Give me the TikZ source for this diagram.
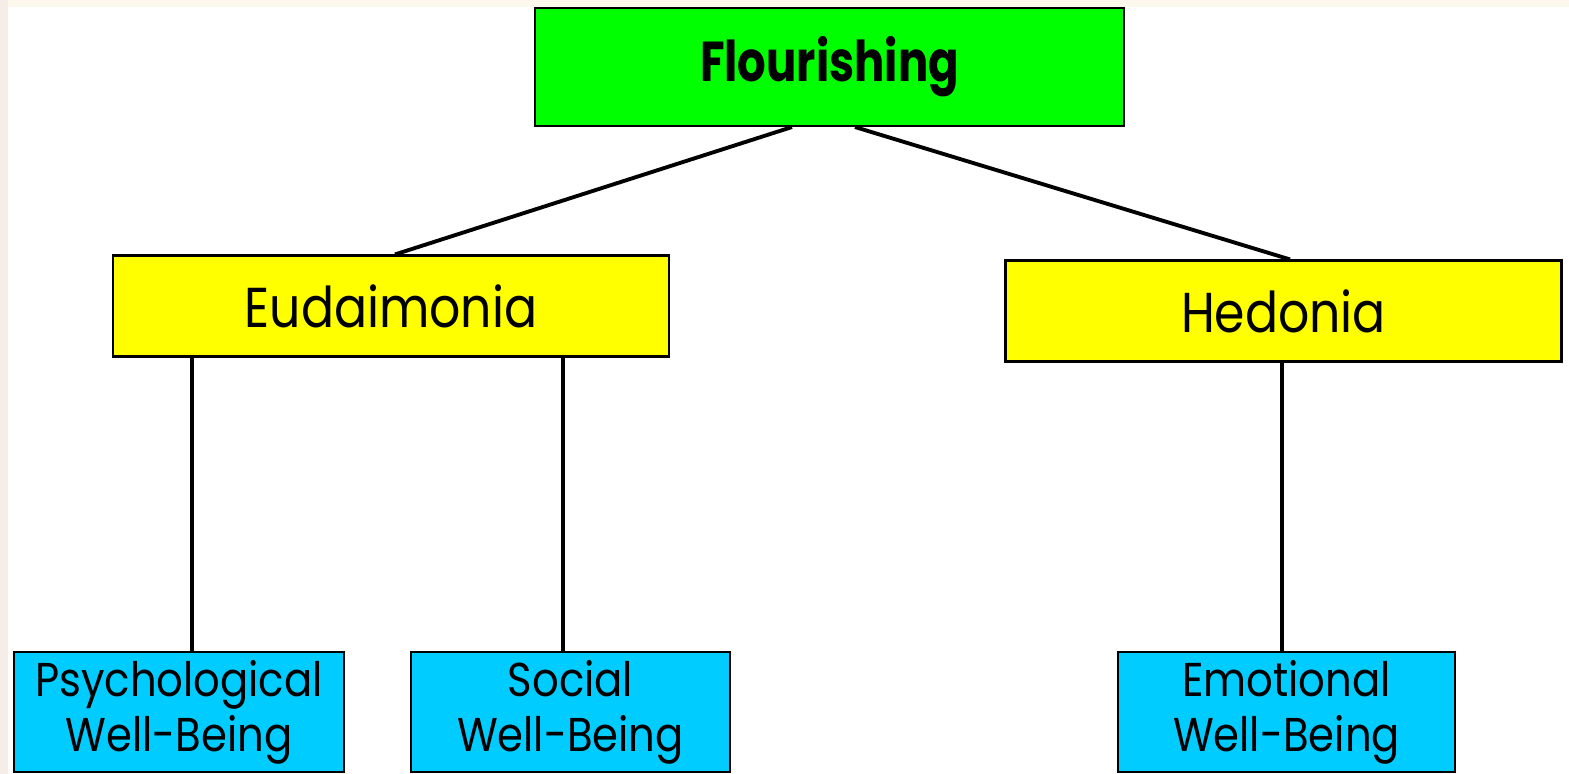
\documentclass[tikz,border=0pt]{standalone}
\usepackage{fontspec}
\setmainfont{Poppins}
\newfontfamily\rootfont[FakeStretch=0.8]{Poppins}
\newfontfamily\branchfont[FakeStretch=0.87]{Poppins}
\newfontfamily\leaffont[FakeStretch=0.88]{Poppins}
\definecolor{topgreen}{RGB}{0,255,0}
\definecolor{midyellow}{RGB}{255,255,0}
\definecolor{lowcyan}{RGB}{0,204,255}
\definecolor{edgepink}{RGB}{246,236,232}
\definecolor{edgecream}{RGB}{253,248,236}
\begin{document}
\begin{tikzpicture}[box/.style={draw, line width=0.6pt, inner sep=0pt, align=center},
		root/.style={box, fill=topgreen, minimum width=5.89cm, minimum height=1.18cm, font=\rootfont\fontsize{16}{19}\selectfont\bfseries},
		branch/.style={box, fill=midyellow, minimum width=5.56cm, minimum height=1.01cm, font=\branchfont\fontsize{16}{19}\selectfont},
		leaf/.style={box, fill=lowcyan, minimum height=1.2cm, font=\leaffont\fontsize{13.5}{15.6}\selectfont},
		link/.style={line width=1.1pt}]
	\useasboundingbox (0,0) rectangle (15.69,7.74);
	\fill[white] (0,0) rectangle (15.69,7.74);
	\fill[edgepink] (0,0) rectangle (0.08,7.74);
	\fill[edgecream] (0.08,7.67) rectangle (15.69,7.74);

	\node[root] at (8.295,7.07) (flour) {Flourishing};
	\node[branch] at (3.91,4.68) (eud) {Eudaimonia};
	\node[branch] at (12.835,4.63) (hed) {Hedonia};
	\node[leaf, minimum width=3.30cm] at (1.79,0.62) (psy) {Psychological\\Well-Being};
	\node[leaf, minimum width=3.19cm] at (5.705,0.62) (soc) {Social\\Well-Being};
	\node[leaf, minimum width=3.37cm] at (12.865,0.62) (emo) {Emotional\\Well-Being};

	\draw[link] ([xshift=-0.375cm]flour.south) -- ([xshift=0.04cm]eud.north);
	\draw[link] ([xshift=0.255cm]flour.south) -- ([xshift=0.065cm]hed.north);
	\draw[link] (eud.south -| psy.north) ++(0.13,0) -- ([xshift=0.13cm]psy.north);
	\draw[link] (eud.south -| soc.north) ++(-0.075,0) -- ([xshift=-0.075cm]soc.north);
	\draw[link] ([xshift=-0.015cm]hed.south) -- ([xshift=-0.015cm]hed.south |- emo.north);
\end{tikzpicture}
\end{document}
